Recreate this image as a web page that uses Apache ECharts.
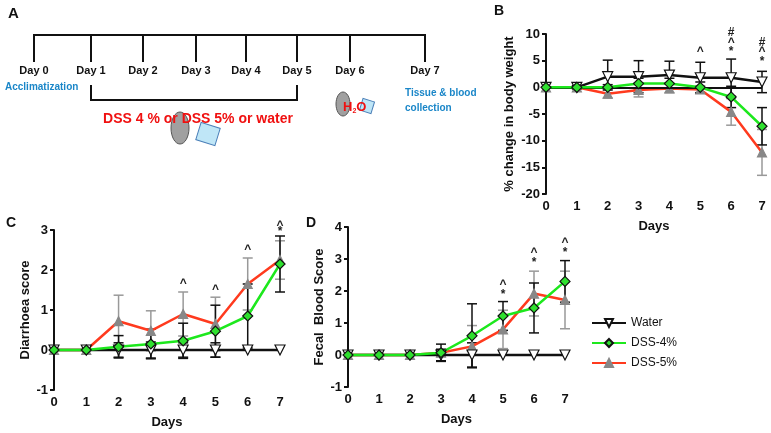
<!DOCTYPE html>
<html>
<head>
<meta charset="utf-8">
<script src="https://cdn.jsdelivr.net/npm/echarts@6/dist/echarts.min.js"></script>
<style>html,body{margin:0;padding:0;background:#fff}#main{width:771px;height:433px}</style>
</head>
<body>
<div id="main"></div>
<script>
var days = [0, 1, 2, 3, 4, 5, 6, 7];

// B: % change in body weight
var bWater = [0, 0, 2, 2, 2.3, 1.8, 1.8, 1];
var bWaterErr = [0, 0.3, 3.1, 3, 2.6, 2.9, 3.5, 2];
var bDss4 = [0, 0, 0, 0.7, 0.7, 0, -1.8, -7.3];
var bDss4Err = [0, 0.2, 0.5, 1, 1, 1, 2, 3.5];
var bDss5 = [0, 0, -1.2, -0.5, -0.2, -0.4, -4.6, -12.2];
var bDss5Err = [0, 0.2, 0.8, 1.3, 0.8, 0.7, 2.5, 4.3];
var bMarks = [[5, 6.6, '^'], [6, 10.2, '#'], [6, 8.4, '^'], [6, 6.6, '*'], [7, 8.4, '#'], [7, 6.6, '^'], [7, 4.8, '*']];

// C: diarrhoea score
var cWater = [0, 0, 0, 0, 0, 0, 0, 0];
var cWaterErr = [0, 0, 0.18, 0.2, 0.18, 0.18, 0, 0];
var cDss4 = [0, 0, 0.08, 0.15, 0.23, 0.47, 0.85, 2.15];
var cDss4Err = [0, 0, 0.28, 0.37, 0.44, 0.65, 0.8, 0.7];
var cDss5 = [0, 0, 0.72, 0.48, 0.9, 0.65, 1.65, 2.25];
var cDss5Err = [0, 0, 0.65, 0.5, 0.55, 0.67, 0.65, 0.48];
var cMarks = [[4, 1.65, '^'], [5, 1.5, '^'], [6, 2.5, '^'], [7, 3.1, '^'], [7, 2.95, '*']];

// D: fecal blood score
var dWater = [0, 0, 0, 0, 0, 0, 0, 0];
var dWaterErr = [0, 0, 0, 0.18, 0.38, 0, 0, 0];
var dDss4 = [0, 0, 0, 0.07, 0.6, 1.22, 1.47, 2.3];
var dDss4Err = [0, 0, 0, 0.27, 1.0, 0.45, 0.78, 0.65];
var dDss5 = [0, 0, 0, 0.07, 0.27, 0.8, 1.92, 1.72];
var dDss5Err = [0, 0, 0, 0.1, 0.65, 0.6, 0.7, 0.9];
var dMarks = [[5, 2.2, '^'], [5, 1.9, '*'], [6, 3.2, '^'], [6, 2.9, '*'], [7, 3.5, '^'], [7, 3.2, '*']];

var timelineDays = ['Day 0', 'Day 1', 'Day 2', 'Day 3', 'Day 4', 'Day 5', 'Day 6', 'Day 7'];
var timelineX = [34, 91, 143, 196, 246, 297, 350, 425];

var FONT = 'Liberation Sans';
var chart = echarts.init(document.getElementById('main'));

function pairs(vals) {
  return days.map(function (d, i) { return [d, vals[i]]; });
}

function errSeries(idx, vals, errs, color) {
  return {
    type: 'custom', xAxisIndex: idx, yAxisIndex: idx, z: 3, silent: true,
    data: days.map(function (d, i) { return [d, vals[i] - errs[i], vals[i] + errs[i]]; }),
    renderItem: function (params, api) {
      var lo = api.coord([api.value(0), api.value(1)]);
      var hi = api.coord([api.value(0), api.value(2)]);
      if (Math.abs(lo[1] - hi[1]) < 1) return null;
      var st = { stroke: color, lineWidth: 1.5 };
      return { type: 'group', children: [
        { type: 'line', shape: { x1: lo[0], y1: lo[1], x2: hi[0], y2: hi[1] }, style: st },
        { type: 'line', shape: { x1: lo[0] - 5, y1: lo[1], x2: lo[0] + 5, y2: lo[1] }, style: st },
        { type: 'line', shape: { x1: hi[0] - 5, y1: hi[1], x2: hi[0] + 5, y2: hi[1] }, style: st }
      ] };
    }
  };
}

function markSeries(idx, marks) {
  return {
    type: 'custom', xAxisIndex: idx, yAxisIndex: idx, z: 6, silent: true,
    data: marks,
    renderItem: function (params, api) {
      var p = api.coord([api.value(0), api.value(1)]);
      return { type: 'text', x: p[0], y: p[1], style: {
        text: marks[params.dataIndex][2], fill: '#222', font: 'bold 12px ' + FONT,
        align: 'center', verticalAlign: 'middle' } };
    }
  };
}

function lineSeries(idx, name, vals, color, symbol, fill, size, z) {
  return {
    name: name, type: 'line', xAxisIndex: idx, yAxisIndex: idx, z: z,
    data: pairs(vals), symbol: symbol, symbolSize: size,
    lineStyle: { color: color, width: 2.5 },
    itemStyle: { color: fill, borderColor: fill === '#888' ? '#888' : '#111', borderWidth: 1.2 }
  };
}

function panel(idx, w, d4, d5, w4e, d4e, d5e, marks) {
  return [
    errSeries(idx, d5, d5e, '#999'),
    errSeries(idx, w, w4e, '#111'),
    errSeries(idx, d4, d4e, '#111'),
    lineSeries(idx, 'DSS-5%', d5, '#ff3a1e', 'triangle', '#888', 9, 4),
    Object.assign(lineSeries(idx, 'Water', w, '#111', 'triangle', '#fff', 10, 5), {
      symbolRotate: 180,
      markLine: { silent: true, symbol: 'none', label: { show: false },
        lineStyle: { color: '#111', width: 2, type: 'solid' }, data: [{ yAxis: 0 }] }
    }),
    lineSeries(idx, 'DSS-4%', d4, '#1de81d', 'diamond', '#2fe02f', 10, 5),
    markSeries(idx, marks)
  ];
}

var axisTxt = { color: '#111', fontFamily: FONT, fontWeight: 'bold', fontSize: 13 };
function xAx(idx, name) {
  return { type: 'value', gridIndex: idx, min: 0, max: 7, interval: 1,
    axisLine: { show: false, onZero: false }, axisTick: { show: false }, splitLine: { show: false },
    axisLabel: Object.assign({ margin: 6 }, axisTxt),
    name: name, nameLocation: 'middle', nameGap: 26, nameTextStyle: axisTxt };
}
function yAx(idx, min, max, interval, name, gap) {
  return { type: 'value', gridIndex: idx, min: min, max: max, interval: interval,
    axisLine: { show: true, lineStyle: { color: '#111', width: 2 } },
    axisTick: { show: true, length: 4, lineStyle: { color: '#111', width: 2 } },
    splitLine: { show: false }, axisLabel: Object.assign({ margin: 6 }, axisTxt),
    name: name, nameLocation: 'middle', nameGap: gap, nameTextStyle: axisTxt };
}

var graphics = [
  { type: 'text', left: 8, top: 6, style: { text: 'A', font: 'bold 15px ' + FONT, fill: '#111' } },
  { type: 'text', left: 494, top: 4, style: { text: 'B', font: 'bold 14px ' + FONT, fill: '#111' } },
  { type: 'text', left: 6, top: 216, style: { text: 'C', font: 'bold 14px ' + FONT, fill: '#111' } },
  { type: 'text', left: 306, top: 216, style: { text: 'D', font: 'bold 14px ' + FONT, fill: '#111' } },
  { type: 'line', shape: { x1: 33, y1: 35, x2: 426, y2: 35 }, style: { stroke: '#111', lineWidth: 2 } },
  { type: 'polyline', shape: { points: [[91, 85], [91, 100], [297, 100], [297, 85]] }, style: { stroke: '#111', lineWidth: 2, fill: null } },
  // simple stand-ins for the mouse drawings
  { type: 'ellipse', shape: { cx: 180, cy: 128, rx: 9, ry: 16 }, style: { fill: '#a0a0a0', stroke: '#555' } },
  { type: 'rect', x: 208, y: 134, rotation: -0.3, shape: { x: -10, y: -9, width: 20, height: 18 }, style: { fill: '#bfe6f7', stroke: '#4a7fb8' } },
  { type: 'ellipse', shape: { cx: 343, cy: 104, rx: 7, ry: 12 }, style: { fill: '#a0a0a0', stroke: '#555' } },
  { type: 'rect', x: 367, y: 106, rotation: -0.3, shape: { x: -6, y: -6, width: 12, height: 12 }, style: { fill: '#bfe6f7', stroke: '#4a7fb8' } },
  { type: 'text', x: 198, y: 119, z: 10, style: { text: 'DSS 4 % or DSS 5% or water', font: 'bold 14px ' + FONT, fill: '#f01010', align: 'center', verticalAlign: 'middle' } },
  { type: 'text', x: 5, y: 87, style: { text: 'Acclimatization', font: 'bold 10px ' + FONT, fill: '#1a86c8', verticalAlign: 'middle' } },
  { type: 'text', x: 405, y: 86, style: { text: 'Tissue & blood\ncollection', font: 'bold 10px ' + FONT, lineHeight: 15, fill: '#1a86c8' } },
  { type: 'text', x: 343, y: 100, z: 10, style: { text: 'H{s|2}O', rich: { s: { fontSize: 7, fontWeight: 'bold', fill: '#f01010', padding: [8, 0, 0, 0] } }, font: 'bold 13px ' + FONT, fill: '#f01010' } }
];
timelineX.forEach(function (x, i) {
  graphics.push({ type: 'line', shape: { x1: x, y1: 35, x2: x, y2: 62 }, style: { stroke: '#111', lineWidth: 2 } });
  graphics.push({ type: 'text', x: x, y: 71, style: { text: timelineDays[i], font: 'bold 11px ' + FONT, fill: '#111', align: 'center', verticalAlign: 'middle' } });
});

var option = {
  animation: false,
  textStyle: { fontFamily: FONT },
  grid: [
    { left: 546, right: 9, top: 34, bottom: 239 },
    { left: 54, right: 491, top: 230, bottom: 43 },
    { left: 348, right: 206, top: 227, bottom: 46 }
  ],
  xAxis: [xAx(0, 'Days'), xAx(1, 'Days'), xAx(2, 'Days')],
  yAxis: [
    yAx(0, -20, 10, 5, '% change in body weight', 30),
    yAx(1, -1, 3, 1, 'Diarrhoea score', 22),
    yAx(2, -1, 4, 1, 'Fecal  Blood Score', 22)
  ],
  legend: {
    left: 586, top: 312, orient: 'vertical', itemGap: 8, itemWidth: 34, itemHeight: 10,
    textStyle: { color: '#111', fontFamily: FONT, fontSize: 12 },
    data: ['Water', 'DSS-4%', 'DSS-5%']
  },
  graphic: graphics,
  series: [].concat(
    panel(0, bWater, bDss4, bDss5, bWaterErr, bDss4Err, bDss5Err, bMarks),
    panel(1, cWater, cDss4, cDss5, cWaterErr, cDss4Err, cDss5Err, cMarks),
    panel(2, dWater, dDss4, dDss5, dWaterErr, dDss4Err, dDss5Err, dMarks)
  )
};

option && chart.setOption(option);
</script>
</body>
</html>
